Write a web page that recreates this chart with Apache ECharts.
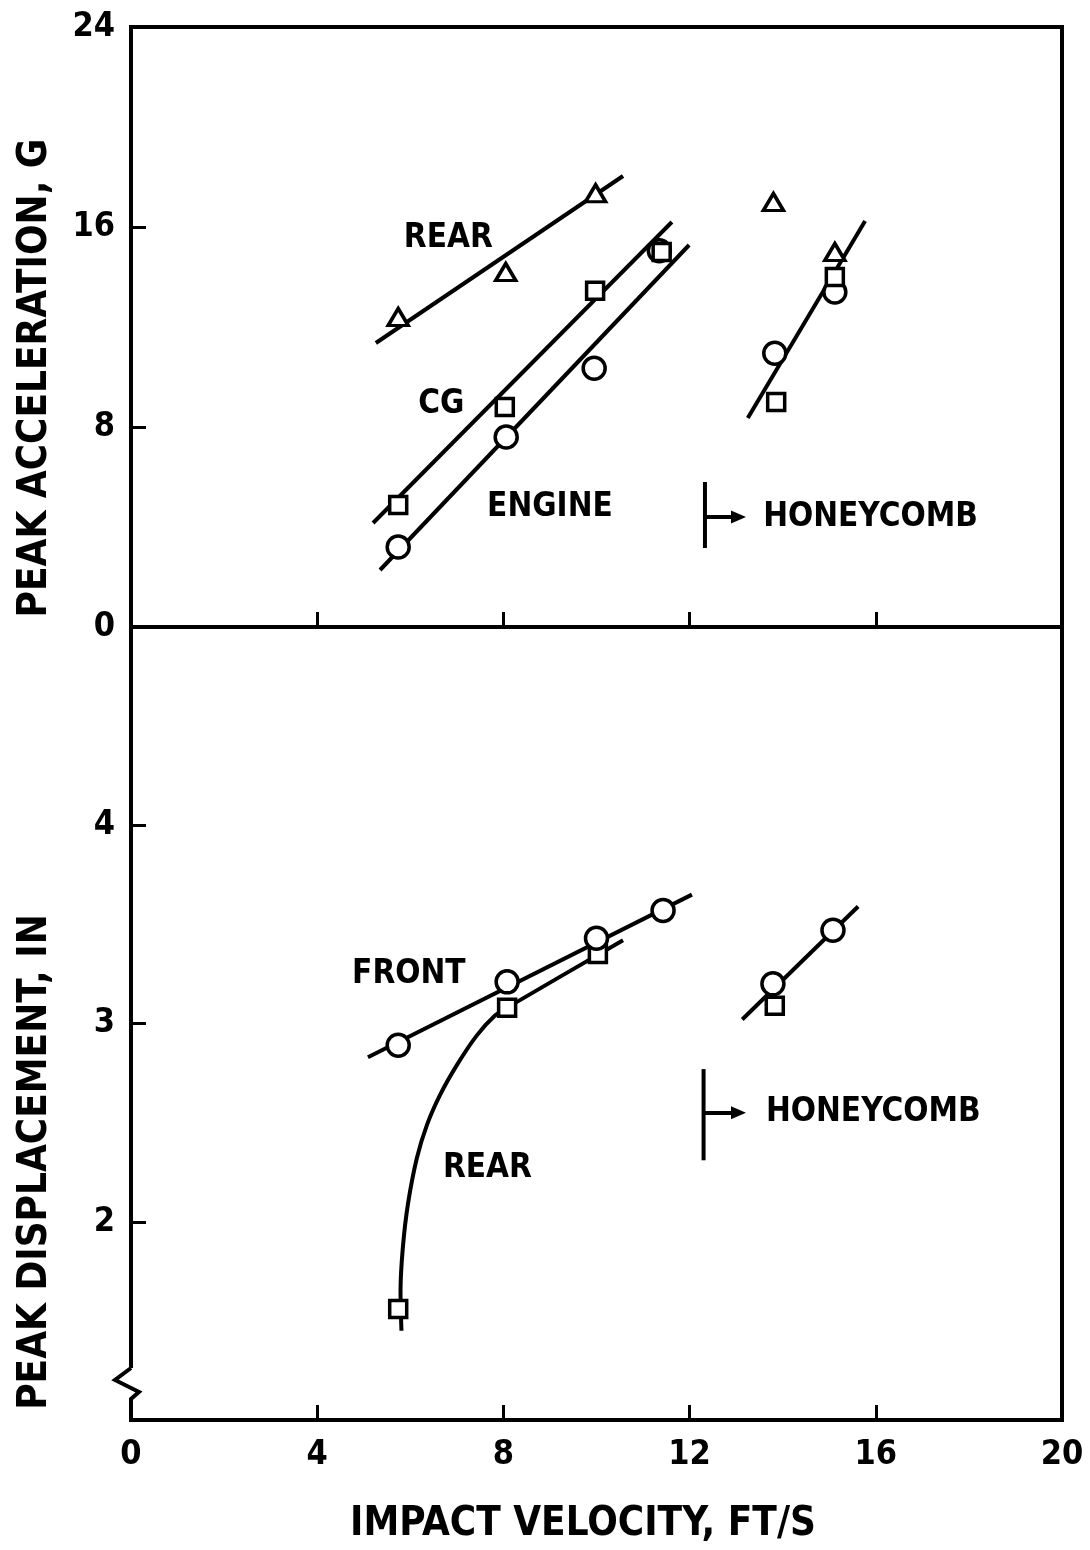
<!DOCTYPE html>
<html><head><meta charset="utf-8">
<script src="https://cdn.jsdelivr.net/npm/echarts@6/dist/echarts.min.js"></script>
<style>html,body{margin:0;padding:0;background:#fff}#c{width:1090px;height:1550px}</style>
</head><body><div id="c"></div>
<script>
const FONT = "'Liberation Sans Narrow','DejaVu Sans Condensed',sans-serif";

// tick labels / ranges
const velTicks = [0, 4, 8, 12, 16, 20];
const accTicks = [0, 8, 16, 24];
const dispTicks = [2, 3, 4];
const dispRange = [1, 5];

// ---------- top panel: peak acceleration, G ----------
const rearAccPts   = [[5.74, 12.4], [8.05, 14.2], [9.98, 17.35], [13.8, 17.0], [15.12, 15.0]];
const cgAccPts     = [[5.74, 4.88], [8.03, 8.8], [9.97, 13.45], [11.4, 15.0], [13.86, 9.0], [15.12, 14.0]];
const engineAccPts = [[5.74, 3.2], [8.06, 7.6], [9.95, 10.35], [11.35, 15.05], [13.83, 10.95], [15.12, 13.4]];
const rearAccFit   = [[5.26, 11.36], [10.57, 18.04]];
const cgAccFit     = [[5.2, 4.16], [11.62, 16.2]];
const engineAccFit = [[5.35, 2.28], [11.99, 15.28]];
const honeyAccFit  = [[13.25, 8.36], [15.77, 16.24]];
const honeyAccBar  = [[12.33, 5.8], [12.33, 3.16]];
const honeyAccArrow = [[12.33, 4.4], [13.05, 4.4]];
const accLabelText = ['REAR', 'CG', 'ENGINE', 'HONEYCOMB'];
const accLabelPos  = [[5.86, 15.56], [6.17, 8.92], [7.65, 4.8], [13.58, 4.4]];

// ---------- bottom panel: peak displacement, in ----------
const frontDispPts = [[5.74, 2.89], [8.08, 3.21], [10.0, 3.43], [11.43, 3.57], [13.79, 3.20], [15.08, 3.47]];
const rearDispPts  = [[5.74, 1.56], [8.08, 3.08], [10.03, 3.35], [13.83, 3.09]];
const frontDispFit = [[5.09, 2.83], [12.05, 3.65]];
const rearDispCurve = [[5.81, 1.45], [5.79, 1.65], [5.84, 1.87], [5.95, 2.09], [6.14, 2.32], [6.36, 2.49], [6.64, 2.64], [7.00, 2.79], [7.43, 2.94], [7.82, 3.04], [8.08, 3.08], [10.57, 3.42]];
const honeyDispFit = [[13.13, 3.02], [15.62, 3.59]];
const honeyDispBar = [[12.3, 2.77], [12.3, 2.31]];
const honeyDispArrow = [[12.3, 2.55], [13.05, 2.55]];
const dispLabelText = ['FRONT', 'REAR', 'HONEYCOMB'];
const dispLabelPos  = [[4.75, 3.25], [6.70, 2.27], [13.64, 2.55]];

// layout
const L = 131, W = 931, T1 = 27, H1 = 600, T2 = 627, H2 = 793;

const chart = echarts.init(document.getElementById('c'), null, {renderer: 'canvas'});

function fit(data, g, extra) {
  return Object.assign({
    type: 'line', xAxisIndex: g, yAxisIndex: g, data: data, symbol: 'none',
    lineStyle: {color: '#000', width: 4, opacity: 1}, silent: true, z: 2, animation: false
  }, extra || {});
}
function pts(data, g, sym, size, z) {
  return {
    type: 'scatter', xAxisIndex: g, yAxisIndex: g, data: data, symbol: sym, symbolSize: size,
    itemStyle: {color: '#fff', borderColor: '#000', borderWidth: 3.5, opacity: 1},
    silent: true, z: z, animation: false
  };
}
function labels(text, pos, g) {
  return {
    type: 'scatter', xAxisIndex: g, yAxisIndex: g, symbolSize: 0, silent: true, z: 6, animation: false,
    itemStyle: {opacity: 1},
    data: text.map((t, i) => ({name: t, value: pos[i]})),
    label: {show: true, position: 'right', distance: 0, formatter: '{b}', color: '#000', opacity: 1,
            fontFamily: FONT, fontSize: 33, fontWeight: 'bold'}
  };
}
function bracket(bar, arrow, g) {
  return fit(bar, g, {
    markLine: {
      silent: true, animation: false, symbol: ['none', 'triangle'], symbolSize: [13, 15],
      label: {show: false}, itemStyle: {color: '#000', opacity: 1},
      lineStyle: {color: '#000', width: 4, type: 'solid', opacity: 1},
      data: [[{coord: arrow[0]}, {coord: arrow[1]}]]
    }
  });
}

const axisCommon = {
  type: 'value', axisLine: {show: false}, splitLine: {show: false},
  axisTick: {show: true, inside: true, length: 15, lineStyle: {color: '#000', width: 3}},
  axisLabel: {color: '#000', fontFamily: FONT, fontSize: 34, fontWeight: 'bold'}
};

const titleFont = 'bold 40px ' + FONT;

const option = {
  backgroundColor: '#fff',
  animation: false,
  textStyle: {fontFamily: FONT},
  grid: [
    {left: L, top: T1, width: W, height: H1, show: true, borderColor: '#000', borderWidth: 4, backgroundColor: 'transparent'},
    {left: L, top: T2, width: W, height: H2, show: true, borderColor: '#000', borderWidth: 4, backgroundColor: 'transparent'}
  ],
  xAxis: [
    Object.assign({}, axisCommon, {gridIndex: 0, min: velTicks[0], max: velTicks[velTicks.length - 1], interval: 4,
      axisLabel: {show: false}}),
    Object.assign({}, axisCommon, {gridIndex: 1, min: velTicks[0], max: velTicks[velTicks.length - 1], interval: 4,
      axisLabel: Object.assign({}, axisCommon.axisLabel, {margin: 18})})
  ],
  yAxis: [
    Object.assign({}, axisCommon, {gridIndex: 0, min: accTicks[0], max: accTicks[accTicks.length - 1], interval: 8,
      axisLabel: Object.assign({}, axisCommon.axisLabel, {margin: 16})}),
    Object.assign({}, axisCommon, {gridIndex: 1, min: dispRange[0], max: dispRange[1], interval: 1,
      axisLabel: Object.assign({}, axisCommon.axisLabel, {margin: 16,
        formatter: v => dispTicks.indexOf(v) >= 0 ? String(v) : ''})})
  ],
  graphic: [
    {type: 'text', x: 36, y: 378, rotation: Math.PI / 2, silent: true,
     style: {text: 'PEAK ACCELERATION, G', fill: '#000', font: titleFont, textAlign: 'center', textVerticalAlign: 'middle'}},
    {type: 'text', x: 36, y: 1162, rotation: Math.PI / 2, silent: true,
     style: {text: 'PEAK DISPLACEMENT, IN', fill: '#000', font: titleFont, textAlign: 'center', textVerticalAlign: 'middle'}},
    {type: 'text', x: 583, y: 1525, silent: true,
     style: {text: 'IMPACT VELOCITY, FT/S', fill: '#000', font: titleFont, textAlign: 'center', textVerticalAlign: 'middle'}},
    // axis break on lower-left axis
    {type: 'rect', silent: true, z: 100, shape: {x: L - 4, y: T2 + H2 - 52, width: 8, height: 30}, style: {fill: '#fff'}},
    {type: 'polyline', silent: true, z: 101,
     shape: {points: [[L, T2 + H2 - 52], [L - 16, T2 + H2 - 40], [L + 8, T2 + H2 - 28], [L, T2 + H2 - 21], [L, T2 + H2 - 20]]},
     style: {stroke: '#000', lineWidth: 4, fill: null, lineJoin: 'miter'}}
  ],
  series: [
    // top panel
    fit(rearAccFit, 0), fit(cgAccFit, 0), fit(engineAccFit, 0), fit(honeyAccFit, 0),
    bracket(honeyAccBar, honeyAccArrow, 0),
    pts(engineAccPts, 0, 'circle', 22, 3),
    pts(cgAccPts, 0, 'rect', 17, 4),
    pts(rearAccPts, 0, 'triangle', [20, 17], 4),
    labels(accLabelText, accLabelPos, 0),
    // bottom panel
    fit(frontDispFit, 1), fit(rearDispCurve, 1, {smooth: 0.3}), fit(honeyDispFit, 1),
    bracket(honeyDispBar, honeyDispArrow, 1),
    pts(rearDispPts, 1, 'rect', 17, 3),
    pts(frontDispPts, 1, 'circle', 22, 4),
    labels(dispLabelText, dispLabelPos, 1)
  ]
};
chart.setOption(option);
</script>
</body></html>
